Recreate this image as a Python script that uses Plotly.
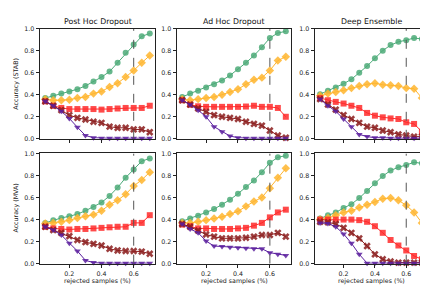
import plotly.graph_objects as go

x_vals = [0.05, 0.10, 0.15, 0.20, 0.25, 0.30, 0.35, 0.40, 0.45, 0.50, 0.55, 0.60, 0.65, 0.70]

col_titles = ["Post Hoc Dropout", "Ad Hoc Dropout", "Deep Ensemble"]
row_labels = ["Accuracy (STAB)", "Accuracy (MVA)"]
x_ticks = [0.2, 0.4, 0.6]
y_ticks = [0.0, 0.2, 0.4, 0.6, 0.8, 1.0]
threshold = 0.6

# series order: green, orange, red, dark red, purple
stab_post = [
    [0.37, 0.39, 0.41, 0.43, 0.45, 0.48, 0.52, 0.56, 0.61, 0.69, 0.78, 0.855, 0.93, 0.955],
    [0.36, 0.35, 0.35, 0.355, 0.37, 0.38, 0.41, 0.43, 0.47, 0.505, 0.56, 0.62, 0.69, 0.755],
    [0.34, 0.30, 0.28, 0.27, 0.27, 0.27, 0.27, 0.265, 0.27, 0.275, 0.28, 0.28, 0.28, 0.30],
    [0.34, 0.30, 0.26, 0.215, 0.19, 0.175, 0.155, 0.145, 0.11, 0.10, 0.10, 0.085, 0.085, 0.06],
    [0.34, 0.30, 0.25, 0.185, 0.105, 0.03, 0.01, 0.005, 0.005, 0.005, 0.005, 0.005, 0.005, 0.005],
]
stab_adhoc = [
    [0.38, 0.41, 0.435, 0.465, 0.495, 0.53, 0.575, 0.63, 0.69, 0.755, 0.83, 0.915, 0.96, 0.975],
    [0.36, 0.35, 0.36, 0.37, 0.38, 0.40, 0.425, 0.45, 0.495, 0.535, 0.555, 0.62, 0.71, 0.745],
    [0.35, 0.31, 0.295, 0.29, 0.29, 0.29, 0.29, 0.29, 0.293, 0.30, 0.29, 0.29, 0.28, 0.20],
    [0.35, 0.31, 0.275, 0.245, 0.215, 0.20, 0.19, 0.18, 0.155, 0.135, 0.12, 0.075, 0.03, 0.01],
    [0.35, 0.31, 0.26, 0.20, 0.11, 0.065, 0.025, 0.01, 0.005, 0.005, 0.005, 0.005, 0.005, 0.005],
]
stab_ens = [
    [0.405, 0.435, 0.465, 0.50, 0.54, 0.60, 0.66, 0.73, 0.80, 0.85, 0.88, 0.895, 0.915, 0.905],
    [0.39, 0.41, 0.425, 0.44, 0.46, 0.48, 0.495, 0.505, 0.49, 0.485, 0.48, 0.46, 0.455, 0.37],
    [0.37, 0.35, 0.335, 0.32, 0.30, 0.28, 0.235, 0.21, 0.195, 0.185, 0.18, 0.15, 0.135, 0.065],
    [0.36, 0.31, 0.265, 0.215, 0.18, 0.145, 0.11, 0.10, 0.075, 0.06, 0.04, 0.03, 0.02, 0.02],
    [0.36, 0.30, 0.25, 0.18, 0.11, 0.04, 0.02, 0.01, 0.01, 0.005, 0.005, 0.005, 0.005, 0.005],
]
mva_post = [
    [0.37, 0.395, 0.415, 0.43, 0.45, 0.48, 0.515, 0.555, 0.615, 0.69, 0.78, 0.855, 0.93, 0.955],
    [0.365, 0.37, 0.38, 0.395, 0.415, 0.43, 0.445, 0.48, 0.535, 0.575, 0.63, 0.705, 0.76, 0.83],
    [0.335, 0.32, 0.315, 0.31, 0.315, 0.315, 0.32, 0.325, 0.33, 0.335, 0.335, 0.37, 0.37, 0.44],
    [0.335, 0.305, 0.28, 0.25, 0.215, 0.195, 0.18, 0.165, 0.135, 0.12, 0.115, 0.115, 0.11, 0.09],
    [0.335, 0.305, 0.26, 0.185, 0.115, 0.03, 0.01, 0.005, 0.005, 0.005, 0.005, 0.005, 0.005, 0.005],
]
mva_adhoc = [
    [0.385, 0.41, 0.435, 0.465, 0.495, 0.535, 0.58, 0.635, 0.695, 0.755, 0.83, 0.915, 0.965, 0.98],
    [0.37, 0.37, 0.38, 0.395, 0.41, 0.425, 0.45, 0.475, 0.52, 0.565, 0.60, 0.685, 0.78, 0.865],
    [0.355, 0.34, 0.32, 0.32, 0.315, 0.315, 0.315, 0.32, 0.325, 0.345, 0.37, 0.42, 0.465, 0.49],
    [0.36, 0.335, 0.30, 0.265, 0.245, 0.23, 0.23, 0.23, 0.235, 0.245, 0.26, 0.26, 0.28, 0.245],
    [0.36, 0.315, 0.28, 0.205, 0.16, 0.155, 0.15, 0.145, 0.14, 0.135, 0.135, 0.10, 0.085, 0.075],
]
mva_ens = [
    [0.41, 0.44, 0.465, 0.505, 0.54, 0.595, 0.66, 0.73, 0.795, 0.845, 0.875, 0.895, 0.92, 0.91],
    [0.40, 0.415, 0.44, 0.465, 0.48, 0.51, 0.535, 0.56, 0.59, 0.595, 0.575, 0.53, 0.465, 0.37],
    [0.40, 0.40, 0.40, 0.40, 0.40, 0.395, 0.38, 0.34, 0.28, 0.215, 0.165, 0.12, 0.07, 0.04],
    [0.38, 0.375, 0.36, 0.325, 0.28, 0.23, 0.16, 0.085, 0.04, 0.02, 0.01, 0.01, 0.01, 0.01],
    [0.37, 0.365, 0.335, 0.27, 0.185, 0.085, 0.005, 0.005, 0.005, 0.005, 0.005, 0.005, 0.005, 0.005],
]

panels = [stab_post, stab_adhoc, stab_ens, mva_post, mva_adhoc, mva_ens]

colors = ["#4caa78", "#ffb52e", "#ff2a2a", "#8b1c1c", "#5a1f9e"]
symbols = ["circle", "diamond", "square", "x", "triangle-down"]
sizes = [6, 6.5, 6, 6.5, 6]

W, H = 428, 286
x_px = [(32, 147), (169, 283), (307, 419)]
y_px = [(17, 130), (145, 258)]

fig = go.Figure()
font = dict(family="DejaVu Sans", size=6.3, color="#222")

for i, data in enumerate(panels):
    r, c = divmod(i, 3)
    k = i + 1
    xa = "x" if k == 1 else f"x{k}"
    ya = "y" if k == 1 else f"y{k}"
    for s in range(5):
        fig.add_trace(go.Scatter(
            x=x_vals, y=data[s], mode="lines+markers", xaxis=xa, yaxis=ya,
            line=dict(color=colors[s], width=1),
            marker=dict(symbol=symbols[s], size=sizes[s], color=colors[s],
                        opacity=0.85, line=dict(width=0)),
            showlegend=False, cliponaxis=False))
    fig.add_trace(go.Scatter(
        x=[threshold, threshold], y=[0, 1], mode="lines", xaxis=xa, yaxis=ya,
        line=dict(color="#555", width=1, dash="dash"), showlegend=False))
    xd = [x_px[c][0] / W, x_px[c][1] / W]
    yd = [1 - y_px[r][1] / H, 1 - y_px[r][0] / H]
    axkey = "xaxis" if k == 1 else f"xaxis{k}"
    aykey = "yaxis" if k == 1 else f"yaxis{k}"
    fig.layout[axkey] = dict(
        domain=xd, anchor=ya, range=[0.0175, 0.7325],
        tickvals=x_ticks, ticktext=([f"{t:.1f}" for t in x_ticks] if r == 1 else ["", "", ""]),
        ticks="outside", ticklen=3.5, tickwidth=0.8, tickcolor="#222",
        showline=True, linecolor="#222", linewidth=0.8, mirror=True,
        showgrid=False, zeroline=False, tickfont=font)
    fig.layout[aykey] = dict(
        domain=yd, anchor=xa, range=[0, 1],
        tickvals=y_ticks, ticktext=[f"{t:.1f}" for t in y_ticks],
        ticks="outside", ticklen=3.5, tickwidth=0.8, tickcolor="#222",
        showline=True, linecolor="#222", linewidth=0.8, mirror=True,
        showgrid=False, zeroline=False, tickfont=font)

annotations = []
for c, t in enumerate(col_titles):
    cx = (x_px[c][0] + x_px[c][1]) / 2 / W
    annotations.append(dict(text=t, x=cx, y=1 - 9.5 / H, xanchor="center", yanchor="middle",
                            xref="paper", yref="paper", showarrow=False,
                            font=dict(family="DejaVu Sans", size=7.8, color="#111")))
    annotations.append(dict(text="rejected samples (%)", x=cx, y=1 - 276 / H,
                            xanchor="center", yanchor="middle",
                            xref="paper", yref="paper", showarrow=False,
                            font=dict(family="DejaVu Sans", size=6.3, color="#222")))
for r, t in enumerate(row_labels):
    annotations.append(dict(text=t, x=8 / W, y=1 - (y_px[r][0] + y_px[r][1]) / 2 / H,
                            xanchor="center", yanchor="middle",
                            xref="paper", yref="paper", showarrow=False, textangle=-90,
                            font=dict(family="DejaVu Sans", size=6.3, color="#222")))

fig.update_layout(width=W, height=H, margin=dict(l=0, r=0, t=0, b=0),
                  plot_bgcolor="white", paper_bgcolor="white",
                  annotations=annotations)

fig.write_html("out.html")
